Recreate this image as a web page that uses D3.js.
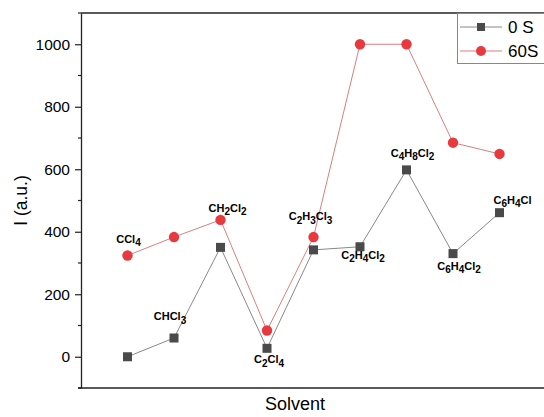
<!DOCTYPE html>
<html>
<head>
<meta charset="utf-8">
<script src="https://cdn.jsdelivr.net/npm/d3@7"></script>
<style>
  body { margin: 0; background: #fff; }
  text { font-family: "Liberation Sans", Arial, sans-serif; }
</style>
</head>
<body>
<script>
// solvents along x, in order
var solvents = ["CCl4", "CHCl3", "CH2Cl2", "C2Cl4", "C2H3Cl3", "C2H4Cl2", "C4H8Cl2", "C6H4Cl2", "C6H4Cl"];
var s0 = [0, 60, 350, 27, 342, 352, 598, 330, 461];
var s60 = [324, 383, 438, 84, 383, 1000, 1000, 685, 649];
var yTicks = [0, 200, 400, 600, 800, 1000];

var width = 544, height = 417;
var margin = {left: 81, top: 13, bottom: 29};

var svg = d3.select("body").append("svg").attr("width", width).attr("height", height);

var x = d3.scaleLinear().domain([0, 10]).range([margin.left, margin.left + 465]);
var y = d3.scaleLinear().domain([-100, 1100]).range([height - margin.bottom, margin.top]);

// frame: left, top, bottom
svg.append("line").attr("x1", x(0)).attr("x2", width).attr("y1", y(1100)).attr("y2", y(1100))
   .attr("stroke", "#222").attr("stroke-width", 1.3);
svg.append("line").attr("x1", x(0) - 3).attr("x2", width).attr("y1", y(-100)).attr("y2", y(-100))
   .attr("stroke", "#222").attr("stroke-width", 1.3);

var yAxis = svg.append("g").attr("transform", "translate(" + x(0) + ",0)")
  .call(d3.axisLeft(y).tickValues(yTicks).tickFormat(d3.format("d")).tickSize(6).tickPadding(5).tickSizeOuter(0));
yAxis.select(".domain").attr("stroke", "#222").attr("stroke-width", 1.3);
yAxis.selectAll(".tick line").attr("stroke", "#222").attr("stroke-width", 1.2);
yAxis.selectAll("text").attr("font-size", 15.5).attr("fill", "#000")
  .attr("font-family", "Liberation Sans, Arial, sans-serif");

// minor ticks
svg.append("g").selectAll("line")
  .data(d3.range(-100, 1101, 200))
  .enter().append("line")
  .attr("x1", x(0) - 3).attr("x2", x(0))
  .attr("y1", function(d) { return y(d); }).attr("y2", function(d) { return y(d); })
  .attr("stroke", "#222").attr("stroke-width", 1.2);

svg.append("text").attr("transform", "translate(27," + y(500) + ") rotate(-90)")
  .attr("text-anchor", "middle").attr("font-size", 17.5).text("I (a.u.)");
svg.append("text").attr("x", 295).attr("y", 410)
  .attr("text-anchor", "middle").attr("font-size", 18).text("Solvent");

var line = d3.line().x(function(d, i) { return x(i + 1); }).y(function(d) { return y(d); });

svg.append("path").datum(s0).attr("d", line).attr("fill", "none")
  .attr("stroke", "#888").attr("stroke-width", 1);
svg.append("path").datum(s60).attr("d", line).attr("fill", "none")
  .attr("stroke", "#d97f7f").attr("stroke-width", 1);

svg.append("g").selectAll("rect").data(s0).enter().append("rect")
  .attr("x", function(d, i) { return x(i + 1) - 4.5; })
  .attr("y", function(d) { return y(d) - 4.5; })
  .attr("width", 9).attr("height", 9).attr("fill", "#4a4a4a");
svg.append("g").selectAll("circle").data(s60).enter().append("circle")
  .attr("cx", function(d, i) { return x(i + 1); })
  .attr("cy", function(d) { return y(d); })
  .attr("r", 5.2).attr("fill", "#e8393e");

// label placement: which series it hangs off, and offset from that point
var labelPos = [
  {s: 60, dx: 1, dy: -13}, {s: 0, dx: -4, dy: -18}, {s: 60, dx: 7, dy: -8},
  {s: 0, dx: 2, dy: 15}, {s: 60, dx: -3, dy: -17}, {s: 0, dx: 3, dy: 12},
  {s: 0, dx: 6, dy: -13}, {s: 0, dx: 6, dy: 16}, {s: 0, dx: 13, dy: -9}
];

var labels = svg.append("g").selectAll("text").data(solvents).enter().append("text")
  .attr("x", function(d, i) { return x(i + 1) + labelPos[i].dx; })
  .attr("y", function(d, i) {
    var v = labelPos[i].s === 60 ? s60[i] : s0[i];
    return y(v) + labelPos[i].dy;
  })
  .attr("text-anchor", "middle").attr("font-size", 11).attr("font-weight", "bold");

labels.each(function(d) {
  var t = d3.select(this);
  var parts = d.match(/[A-Za-z]+|\d+/g);
  var sub = false;
  parts.forEach(function(p) {
    var isNum = /\d/.test(p);
    var ts = t.append("tspan").text(p);
    if (isNum && !sub) { ts.attr("dy", 3.5).attr("font-size", 10); sub = true; }
    else if (!isNum && sub) { ts.attr("dy", -3.5); sub = false; }
    else if (isNum) ts.attr("font-size", 10);
  });
});

// legend
var lg = svg.append("g");
lg.append("rect").attr("x", 457.5).attr("y", 13.5).attr("width", 100).attr("height", 50)
  .attr("fill", "#fff").attr("stroke", "#888").attr("stroke-width", 1);
lg.append("line").attr("x1", 460).attr("x2", 502).attr("y1", 27).attr("y2", 27).attr("stroke", "#888");
lg.append("rect").attr("x", 477).attr("y", 23).attr("width", 8).attr("height", 8).attr("fill", "#4a4a4a");
lg.append("text").attr("x", 508).attr("y", 33).attr("font-size", 17).text("0 S");
lg.append("line").attr("x1", 460).attr("x2", 502).attr("y1", 51).attr("y2", 51).attr("stroke", "#d97f7f");
lg.append("circle").attr("cx", 481).attr("cy", 51).attr("r", 5).attr("fill", "#e8393e");
lg.append("text").attr("x", 508).attr("y", 57).attr("font-size", 17).text("60S");
</script>
</body>
</html>
